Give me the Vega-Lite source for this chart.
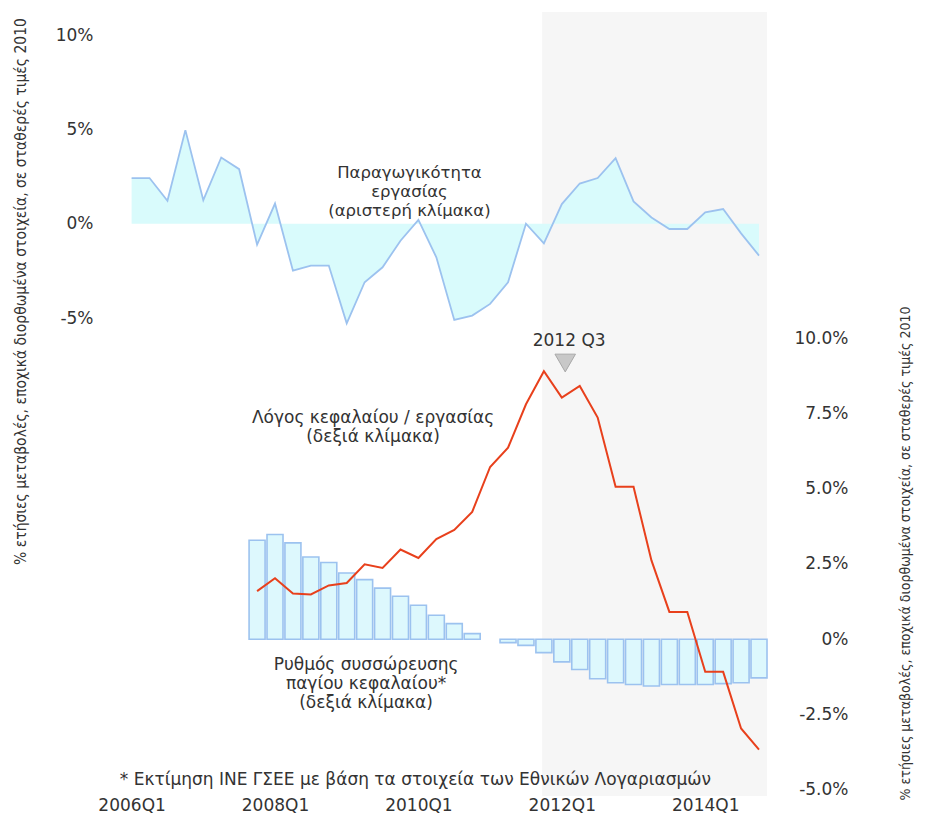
{
  "$schema": "https://vega.github.io/schema/vega-lite/v6.json",
  "autosize": {"type": "none"},
  "width": 690,
  "height": 784,
  "padding": {"left": 100, "top": 12, "right": 136, "bottom": 18},
  "background": "white",
  "config": {
    "view": {"stroke": null},
    "axis": {"grid": false, "ticks": false, "domain": false, "labelFont": "DejaVu Sans", "labelFontSize": 17, "labelColor": "#333333", "titleColor": "#333333", "titleFontWeight": "normal"},
    "text": {"font": "DejaVu Sans"}
  },
  "datasets": {
    "prod": [
      {"q": "2006Q1", "i": 0, "v": 2.42}, {"q": "2006Q2", "i": 1, "v": 2.42}, {"q": "2006Q3", "i": 2, "v": 1.22}, {"q": "2006Q4", "i": 3, "v": 4.96},
      {"q": "2007Q1", "i": 4, "v": 1.25}, {"q": "2007Q2", "i": 5, "v": 3.51}, {"q": "2007Q3", "i": 6, "v": 2.89}, {"q": "2007Q4", "i": 7, "v": -1.11},
      {"q": "2008Q1", "i": 8, "v": 1.07}, {"q": "2008Q2", "i": 9, "v": -2.49}, {"q": "2008Q3", "i": 10, "v": -2.22}, {"q": "2008Q4", "i": 11, "v": -2.22},
      {"q": "2009Q1", "i": 12, "v": -5.28}, {"q": "2009Q2", "i": 13, "v": -3.1}, {"q": "2009Q3", "i": 14, "v": -2.31}, {"q": "2009Q4", "i": 15, "v": -0.9},
      {"q": "2010Q1", "i": 16, "v": 0.2}, {"q": "2010Q2", "i": 17, "v": -1.78}, {"q": "2010Q3", "i": 18, "v": -5.1}, {"q": "2010Q4", "i": 19, "v": -4.87},
      {"q": "2011Q1", "i": 20, "v": -4.25}, {"q": "2011Q2", "i": 21, "v": -3.1}, {"q": "2011Q3", "i": 22, "v": 0.0}, {"q": "2011Q4", "i": 23, "v": -1.04},
      {"q": "2012Q1", "i": 24, "v": 1.04}, {"q": "2012Q2", "i": 25, "v": 2.13}, {"q": "2012Q3", "i": 26, "v": 2.42}, {"q": "2012Q4", "i": 27, "v": 3.48},
      {"q": "2013Q1", "i": 28, "v": 1.18}, {"q": "2013Q2", "i": 29, "v": 0.33}, {"q": "2013Q3", "i": 30, "v": -0.28}, {"q": "2013Q4", "i": 31, "v": -0.28},
      {"q": "2014Q1", "i": 32, "v": 0.6}, {"q": "2014Q2", "i": 33, "v": 0.78}, {"q": "2014Q3", "i": 34, "v": -0.51}, {"q": "2014Q4", "i": 35, "v": -1.69}
    ],
    "kl": [
      {"q": "2007Q4", "i": 7, "v": 1.6}, {"q": "2008Q1", "i": 8, "v": 2.03}, {"q": "2008Q2", "i": 9, "v": 1.52}, {"q": "2008Q3", "i": 10, "v": 1.49},
      {"q": "2008Q4", "i": 11, "v": 1.79}, {"q": "2009Q1", "i": 12, "v": 1.87}, {"q": "2009Q2", "i": 13, "v": 2.49}, {"q": "2009Q3", "i": 14, "v": 2.37},
      {"q": "2009Q4", "i": 15, "v": 2.98}, {"q": "2010Q1", "i": 16, "v": 2.7}, {"q": "2010Q2", "i": 17, "v": 3.33}, {"q": "2010Q3", "i": 18, "v": 3.63},
      {"q": "2010Q4", "i": 19, "v": 4.23}, {"q": "2011Q1", "i": 20, "v": 5.72}, {"q": "2011Q2", "i": 21, "v": 6.36}, {"q": "2011Q3", "i": 22, "v": 7.8},
      {"q": "2011Q4", "i": 23, "v": 8.9}, {"q": "2012Q1", "i": 24, "v": 8.02}, {"q": "2012Q2", "i": 25, "v": 8.41}, {"q": "2012Q3", "i": 26, "v": 7.36},
      {"q": "2012Q4", "i": 27, "v": 5.06}, {"q": "2013Q1", "i": 28, "v": 5.06}, {"q": "2013Q2", "i": 29, "v": 2.62}, {"q": "2013Q3", "i": 30, "v": 0.91},
      {"q": "2013Q4", "i": 31, "v": 0.91}, {"q": "2014Q1", "i": 32, "v": -1.08}, {"q": "2014Q2", "i": 33, "v": -1.08}, {"q": "2014Q3", "i": 34, "v": -2.96},
      {"q": "2014Q4", "i": 35, "v": -3.66}
    ],
    "acc": [
      {"q": "2007Q4", "i": 7, "v": 3.29}, {"q": "2008Q1", "i": 8, "v": 3.48}, {"q": "2008Q2", "i": 9, "v": 3.2}, {"q": "2008Q3", "i": 10, "v": 2.73},
      {"q": "2008Q4", "i": 11, "v": 2.55}, {"q": "2009Q1", "i": 12, "v": 2.2}, {"q": "2009Q2", "i": 13, "v": 1.98}, {"q": "2009Q3", "i": 14, "v": 1.7},
      {"q": "2009Q4", "i": 15, "v": 1.43}, {"q": "2010Q1", "i": 16, "v": 1.13}, {"q": "2010Q2", "i": 17, "v": 0.8}, {"q": "2010Q3", "i": 18, "v": 0.52},
      {"q": "2010Q4", "i": 19, "v": 0.19}, {"q": "2011Q2", "i": 21, "v": -0.11}, {"q": "2011Q3", "i": 22, "v": -0.2},
      {"q": "2011Q4", "i": 23, "v": -0.44}, {"q": "2012Q1", "i": 24, "v": -0.75}, {"q": "2012Q2", "i": 25, "v": -1.0}, {"q": "2012Q3", "i": 26, "v": -1.31},
      {"q": "2012Q4", "i": 27, "v": -1.44}, {"q": "2013Q1", "i": 28, "v": -1.5}, {"q": "2013Q2", "i": 29, "v": -1.55}, {"q": "2013Q3", "i": 30, "v": -1.5},
      {"q": "2013Q4", "i": 31, "v": -1.5}, {"q": "2014Q1", "i": 32, "v": -1.5}, {"q": "2014Q2", "i": 33, "v": -1.47}, {"q": "2014Q3", "i": 34, "v": -1.44},
      {"q": "2014Q4", "i": 35, "v": -1.28}
    ]
  },
  "layer": [
    {
      "layer": [
        {
          "data": {"values": [{"start": 22.9, "end": 35.45}]},
          "mark": {"type": "rect", "color": "#f6f6f6"},
          "encoding": {
            "x": {"field": "start", "type": "quantitative", "scale": {"domain": [-1.484, 36.45], "nice": false, "zero": false}, "axis": {"values": [0, 8, 16, 24, 32], "labelExpr": "toString(2006 + datum.value / 4) + 'Q1'", "title": null, "labelPadding": 1}},
            "x2": {"field": "end"}
          }
        },
        {
          "data": {"name": "prod"},
          "mark": {"type": "area", "color": "#d9fbfc", "opacity": 1},
          "encoding": {
            "x": {"field": "i", "type": "quantitative"},
            "y": {"field": "v", "type": "quantitative", "scale": {"domain": [-30.33, 11.22], "nice": false, "zero": false},
              "axis": {"orient": "left", "values": [-5, 0, 5, 10], "labelExpr": "datum.value + '%'", "labelPadding": 7,
                "title": "% ετήσιες μεταβολές, εποχικά διορθωμένα στοιχεία, σε σταθερές τιμές 2010",
                "titleFont": "Liberation Sans Narrow, Arial Narrow, DejaVu Sans Condensed, sans-serif", "titleFontSize": 15.5,
                "titleAngle": -90, "titleX": -80, "titleY": 279, "titleBaseline": "middle", "titleAlign": "center"}},
            "y2": {"datum": 0}
          }
        },
        {
          "data": {"name": "prod"},
          "mark": {"type": "line", "color": "#9cc2ef", "strokeWidth": 1.8},
          "encoding": {
            "x": {"field": "i", "type": "quantitative"},
            "y": {"field": "v", "type": "quantitative"}
          }
        },
        {
          "data": {"values": [{"i": 15.5, "v": 2.7, "t": "Παραγωγικότητα\nεργασίας\n(αριστερή κλίμακα)"}]},
          "mark": {"type": "text", "fontSize": 16.5, "color": "#333333", "lineBreak": "\n", "lineHeight": 19, "align": "center", "baseline": "middle"},
          "encoding": {
            "x": {"field": "i", "type": "quantitative"},
            "y": {"field": "v", "type": "quantitative"},
            "text": {"field": "t"}
          }
        }
      ]
    },
    {
      "layer": [
        {
          "data": {"name": "acc"},
          "mark": {"type": "bar", "fill": "#ddf8fd", "stroke": "#9cc2ef", "strokeWidth": 1.6, "size": 16},
          "encoding": {
            "x": {"field": "i", "type": "quantitative"},
            "y": {"field": "v", "type": "quantitative", "scale": {"domain": [-5.2, 20.82], "nice": false, "zero": false},
              "axis": {"orient": "right", "values": [-5, -2.5, 0, 2.5, 5, 7.5, 10],
                "labelExpr": "datum.value == 0 ? '0%' : replace(format(datum.value, '.1f'), '\u2212', '-') + '%'",
                "labelAlign": "right", "labelPadding": 58,
                "title": "% ετήσιες μεταβολές, εποχικά διορθωμένα στοιχεία, σε σταθερές τιμές 2010",
                "titleFont": "Liberation Sans Narrow, Arial Narrow, DejaVu Sans Condensed, sans-serif", "titleFontSize": 14,
                "titleAngle": -90, "titleX": 115, "titleY": 541, "titleBaseline": "middle", "titleAlign": "center"}},
            "y2": {"datum": 0}
          }
        },
        {
          "data": {"name": "kl"},
          "mark": {"type": "line", "color": "#e8401c", "strokeWidth": 2},
          "encoding": {
            "x": {"field": "i", "type": "quantitative"},
            "y": {"field": "v", "type": "quantitative"}
          }
        },
        {
          "data": {"values": [{"i": 24.19, "v": 9.17}]},
          "mark": {"type": "point", "shape": "triangle-down", "size": 420, "filled": true, "fill": "#c8c8c8", "stroke": "#a8a8a8", "strokeWidth": 1, "opacity": 1},
          "encoding": {
            "x": {"field": "i", "type": "quantitative"},
            "y": {"field": "v", "type": "quantitative"}
          }
        },
        {
          "data": {"values": [
            {"i": 24.41, "v": 9.91, "t": "2012 Q3"},
            {"i": 13.47, "v": 7.34, "t": "Λόγος κεφαλαίου / εργασίας\n(δεξιά κλίμακα)"},
            {"i": 13.08, "v": -0.85, "t": "Ρυθμός συσσώρευσης\nπαγίου κεφαλαίου*\n(δεξιά κλίμακα)"},
            {"i": 15.83, "v": -4.67, "t": "* Εκτίμηση ΙΝΕ ΓΣΕΕ με βάση τα στοιχεία των Εθνικών Λογαριασμών"}
          ]},
          "mark": {"type": "text", "fontSize": 17, "color": "#333333", "lineBreak": "\n", "lineHeight": 19, "align": "center", "baseline": "middle"},
          "encoding": {
            "x": {"field": "i", "type": "quantitative"},
            "y": {"field": "v", "type": "quantitative"},
            "text": {"field": "t"}
          }
        }
      ]
    }
  ],
  "resolve": {"scale": {"y": "independent"}}
}
